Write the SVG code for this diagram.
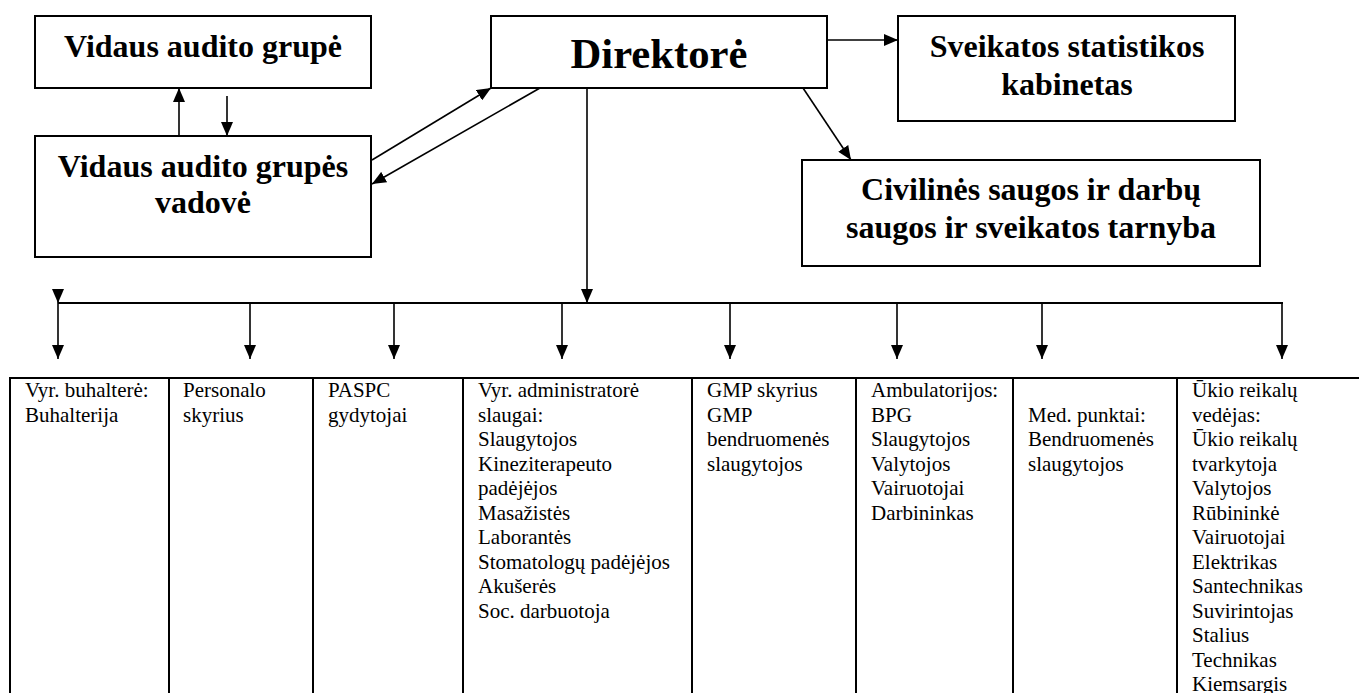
<svg xmlns="http://www.w3.org/2000/svg" width="1359" height="693" viewBox="0 0 1359 693">
<style>
.box{fill:#fff;stroke:#000;stroke-width:2}
.h{font-family:"Liberation Serif","Times New Roman",serif;font-weight:bold;font-size:32px;fill:#000;text-anchor:middle}
.t{font-family:"Liberation Serif","Times New Roman",serif;font-size:21px;fill:#000}
.c{fill:none;stroke:#000;stroke-width:1.6}
.g{fill:none;stroke:#000;stroke-width:2}
</style>
<defs>
<marker id="ah" viewBox="0 0 14 12" refX="14" refY="6" markerWidth="14" markerHeight="12" markerUnits="userSpaceOnUse" orient="auto">
<path d="M0,0 L14,6 L0,12 Z" fill="#000"/>
</marker>
</defs>
<rect width="1359" height="693" fill="#fff"/>
<g id="vidaus-audito-grupe">
<rect class="box" x="35" y="16" width="336" height="72"/>
<text class="h" x="203" y="57">Vidaus audito grupė</text>
</g>
<g id="vadove">
<rect class="box" x="35" y="136" width="336" height="121"/>
<text class="h" x="203" y="177">Vidaus audito grupės</text>
<text class="h" x="203" y="213">vadovė</text>
</g>
<g id="direktore">
<rect class="box" x="491" y="16" width="336" height="72"/>
<text class="h" x="659" y="68" style="font-size:42.7px">Direktorė</text>
</g>
<g id="sveikatos">
<rect class="box" x="898" y="16" width="337" height="105"/>
<text class="h" x="1067" y="57">Sveikatos statistikos</text>
<text class="h" x="1067" y="95">kabinetas</text>
</g>
<g id="civilines">
<rect class="box" x="802" y="160" width="458" height="106"/>
<text class="h" x="1031" y="200">Civilinės saugos ir darbų</text>
<text class="h" x="1031" y="238">saugos ir sveikatos tarnyba</text>
</g>
<g id="connectors">
<path class="c" d="M179,136 L179,88" marker-end="url(#ah)"/>
<path class="c" d="M227,96 L227,136" marker-end="url(#ah)"/>
<path class="c" d="M372,160 L491,88" marker-end="url(#ah)"/>
<path class="c" d="M540,88 L372,184" marker-end="url(#ah)"/>
<path class="c" d="M827,40 L898,40" marker-end="url(#ah)"/>
<path class="c" d="M803,88 L851,160" marker-end="url(#ah)"/>
<path class="c" d="M587,88 L587,303" marker-end="url(#ah)"/>
<path class="g" d="M58,303 L1283,303"/>
<path class="c" d="M58,290 L58,303" marker-end="url(#ah)"/>
<path class="c" d="M58,303 L58,359" marker-end="url(#ah)"/>
<path class="c" d="M250,303 L250,359" marker-end="url(#ah)"/>
<path class="c" d="M394,303 L394,359" marker-end="url(#ah)"/>
<path class="c" d="M562,303 L562,359" marker-end="url(#ah)"/>
<path class="c" d="M730,303 L730,359" marker-end="url(#ah)"/>
<path class="c" d="M897,303 L897,359" marker-end="url(#ah)"/>
<path class="c" d="M1042,303 L1042,359" marker-end="url(#ah)"/>
<path class="c" d="M1282,302 L1282,359" marker-end="url(#ah)"/>
</g>
<g id="table">
<path class="g" d="M9,378 L1359,378 M10,378 L10,693 M169,378 L169,693 M313,378 L313,693 M463,378 L463,693 M692,378 L692,693 M856,378 L856,693 M1013,378 L1013,693 M1177,378 L1177,693"/>
</g>
<g id="col-buhalterija">
<text class="t" x="25" y="397">Vyr. buhalterė:</text>
<text class="t" x="25" y="421.5">Buhalterija</text>
</g>
<g id="col-personalo">
<text class="t" x="183" y="397">Personalo</text>
<text class="t" x="183" y="421.5">skyrius</text>
</g>
<g id="col-paspc">
<text class="t" x="328" y="397">PASPC</text>
<text class="t" x="328" y="421.5">gydytojai</text>
</g>
<g id="col-administratore">
<text class="t" x="478" y="397">Vyr. administratorė</text>
<text class="t" x="478" y="421.5">slaugai:</text>
<text class="t" x="478" y="446">Slaugytojos</text>
<text class="t" x="478" y="470.5">Kineziterapeuto</text>
<text class="t" x="478" y="495">padėjėjos</text>
<text class="t" x="478" y="519.5">Masažistės</text>
<text class="t" x="478" y="544">Laborantės</text>
<text class="t" x="478" y="568.5">Stomatologų padėjėjos</text>
<text class="t" x="478" y="593">Akušerės</text>
<text class="t" x="478" y="617.5">Soc. darbuotoja</text>
</g>
<g id="col-gmp">
<text class="t" x="707" y="397">GMP skyrius</text>
<text class="t" x="707" y="421.5">GMP</text>
<text class="t" x="707" y="446">bendruomenės</text>
<text class="t" x="707" y="470.5">slaugytojos</text>
</g>
<g id="col-ambulatorijos">
<text class="t" x="871" y="397">Ambulatorijos:</text>
<text class="t" x="871" y="421.5">BPG</text>
<text class="t" x="871" y="446">Slaugytojos</text>
<text class="t" x="871" y="470.5">Valytojos</text>
<text class="t" x="871" y="495">Vairuotojai</text>
<text class="t" x="871" y="519.5">Darbininkas</text>
</g>
<g id="col-med-punktai">
<text class="t" x="1028" y="421.5">Med. punktai:</text>
<text class="t" x="1028" y="446">Bendruomenės</text>
<text class="t" x="1028" y="470.5">slaugytojos</text>
</g>
<g id="col-ukio">
<text class="t" x="1192" y="397">Ūkio reikalų</text>
<text class="t" x="1192" y="421.5">vedėjas:</text>
<text class="t" x="1192" y="446">Ūkio reikalų</text>
<text class="t" x="1192" y="470.5">tvarkytoja</text>
<text class="t" x="1192" y="495">Valytojos</text>
<text class="t" x="1192" y="519.5">Rūbininkė</text>
<text class="t" x="1192" y="544">Vairuotojai</text>
<text class="t" x="1192" y="568.5">Elektrikas</text>
<text class="t" x="1192" y="593">Santechnikas</text>
<text class="t" x="1192" y="617.5">Suvirintojas</text>
<text class="t" x="1192" y="642">Stalius</text>
<text class="t" x="1192" y="666.5">Technikas</text>
<text class="t" x="1192" y="691">Kiemsargis</text>
</g>
</svg>
